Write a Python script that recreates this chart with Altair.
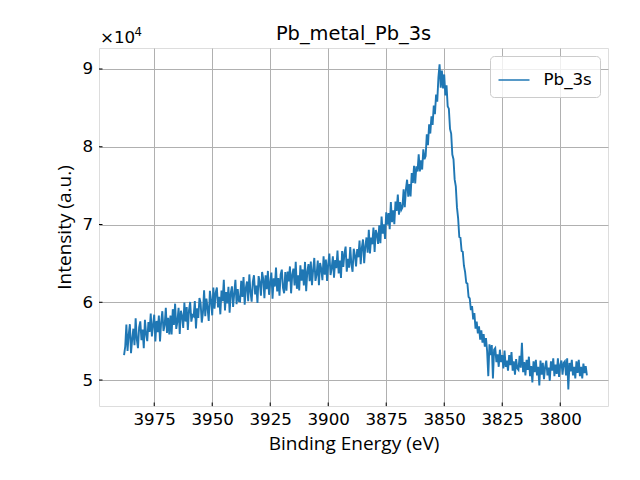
import altair as alt
import pandas as pd

# ---- data ----
energy = [3988.0 - 0.5 * i for i in range(400)]  # binding energy grid, eV (0.5 eV step)
intensity = [
    # 3988.0 - 3978.5
    53200, 54280, 57150, 53730, 55800, 57180, 53450, 55230, 56600, 54480,
    57950, 55230, 54100, 56780, 57550, 55130, 56500, 54080, 57750, 55930,
    # 3978.0 - 3968.5
    55000, 57450, 56200, 58550, 55600, 57050, 58400, 54950, 57600, 56150,
    58300, 54950, 57500, 58850, 56300, 57050, 59300, 56050, 58000, 55850,
    # 3968.0 - 3958.5
    58300, 55850, 59110, 57070, 59820, 56580, 57530, 59290, 55940, 58900,
    58250, 56710, 59960, 57520, 59380, 56430, 58990, 60040, 57500, 58350,
    # 3958.0 - 3948.5
    58200, 60170, 56640, 59210, 57980, 60550, 59920, 57390, 58660, 61530,
    58200, 60470, 59240, 57610, 61480, 60250, 58320, 61890, 59160, 61230,
    # 3948.0 - 3938.5
    61900, 59350, 60700, 58450, 61500, 60150, 62900, 58950, 61300, 59850,
    62000, 58650, 61200, 62050, 59400, 61150, 62900, 59750, 61700, 60150,
    # 3938.0 - 3928.5
    60100, 62750, 60690, 63240, 59690, 61840, 62680, 60130, 63580, 61320,
    60070, 62620, 63470, 61010, 62160, 59910, 63360, 62600, 60850, 63900,
    # 3928.0 - 3918.5
    63000, 60530, 63460, 61690, 64030, 60960, 62490, 63820, 60450, 63080,
    62020, 64450, 61380, 63110, 60840, 63570, 64200, 61840, 61170, 63900,
    # 3918.0 - 3908.5
    61500, 63940, 62670, 64610, 61150, 63580, 64320, 62160, 65190, 61730,
    63470, 61510, 64740, 62780, 64220, 62150, 65190, 61430, 63960, 64900,
    # 3908.0 - 3898.5
    62700, 65250, 62200, 64150, 65700, 62750, 63600, 65350, 62200, 65050,
    64300, 62850, 65900, 63550, 65500, 62750, 64900, 66250, 63500, 64350,
    # 3898.0 - 3888.5
    65900, 63160, 65420, 64380, 66640, 63700, 65360, 63120, 66580, 64540,
    66300, 67160, 63920, 65580, 64440, 67100, 64860, 63920, 66880, 66040,
    # 3888.0 - 3878.5
    64600, 66850, 65790, 67940, 64890, 67040, 68080, 65030, 67180, 68330,
    66370, 69320, 66270, 68310, 67460, 69610, 66460, 69300, 68750, 67500,
    # 3878.0 - 3868.5
    69900, 67610, 71020, 68830, 70040, 68150, 71560, 69970, 71480, 69390,
    72900, 70310, 71820, 70030, 72940, 71750, 73860, 71270, 72880, 71890,
    # 3868.0 - 3858.5
    72200, 74520, 72230, 74550, 75760, 73580, 75190, 73610, 76630, 75340,
    77560, 75270, 77490, 76810, 79020, 76840, 78250, 77070, 79680, 78400,
    # 3858.0 - 3848.5
    78800, 81600, 80200, 82900, 81700, 83900, 82800, 85300, 84200, 86700,
    85800, 88900, 90600, 87600, 89800, 87500, 89300, 86600, 87900, 85200,
    # 3848.0 - 3838.5
    84900, 82300, 81700, 79000, 78400, 75800, 74900, 72200, 70800, 68400,
    68300, 66600, 66500, 64700, 63900, 62500, 62400, 60700, 60500, 59000,
    # 3838.0 - 3828.5
    59500, 57800, 58600, 56600, 57500, 56000, 56900, 55200, 56400, 54800,
    55900, 54300, 55400, 53700, 50500, 54600, 53200, 54500, 50200, 53900,
    # 3828.0 - 3818.5
    54100, 52300, 53300, 51700, 53900, 52300, 53200, 51500, 53800, 51700,
    52500, 51200, 53200, 51900, 53600, 51200, 52400, 50700, 52700, 51500,
    # 3818.0 - 3808.5
    51300, 53100, 51600, 54800, 51000, 52300, 50600, 52600, 51300, 53000,
    50500, 51800, 49700, 52400, 51000, 52600, 50600, 51700, 49300, 52500,
    # 3808.0 - 3798.5
    50700, 52200, 50100, 51700, 52500, 50600, 51600, 49900, 52400, 51200,
    52800, 50500, 52000, 50800, 52800, 50400, 51900, 52500, 50700, 52200,
    # 3798.0 - 3788.5
    52400, 50600, 52800, 48800, 52200, 51100, 52600, 50600, 51700, 50200,
    52400, 50900, 52600, 50500, 51700, 50200, 52100, 50900, 51800, 50600,
]
series_name = "Pb_3s"
x_ticks = [3975, 3950, 3925, 3900, 3875, 3850, 3825, 3800]
y_ticks = [50000, 60000, 70000, 80000, 90000]
x_domain = [3779.4, 3998.8]
y_domain = [46660, 92700]
title_text = ["Pb_metal_Pb_3s"]
x_title = "Binding Energy (eV)"
y_title = "Intensity (a.u.)"
offset_base = ["×10"]
offset_exp = ["4"]

df = pd.DataFrame({"energy": energy, "intensity": intensity, "series": series_name})

W, H = 509, 358
xs = alt.Scale(domain=x_domain, reverse=True, nice=False, zero=False)
ys = alt.Scale(domain=y_domain, nice=False, zero=False)

x_axis = alt.Axis(
    values=x_ticks, format="d", grid=True, ticks=False, domain=False,
    labelPadding=5.5, labelFont="DejaVu Sans", labelFontSize=16.7, labelColor="black",
    labelFlush=False, labelOverlap=False,
    titleFont="Open Sans", titleFontSize=19, titleFontWeight="normal", titleColor="black",
    titleBaseline="alphabetic", titleAlign="center", titleX=W / 2, titleY=43,
    gridColor="#b0b0b0", gridWidth=1,
)
y_axis = alt.Axis(
    values=y_ticks, labelExpr="format(datum.value / 10000, 'd')",
    grid=True, ticks=False, domain=False,
    labelPadding=6.5, labelFont="DejaVu Sans", labelFontSize=16.7, labelColor="black",
    labelFlush=False, labelOverlap=False, labelBaseline="middle",
    titleFont="Open Sans", titleFontSize=19, titleFontWeight="normal", titleColor="black",
    titleAngle=-90, titleBaseline="alphabetic", titleAlign="center", titleX=-28.5, titleY=H / 2,
    gridColor="#b0b0b0", gridWidth=1,
)

legend = alt.Legend(
    title=None, orient="top-right", offset=8, padding=7.5,
    symbolType="stroke", symbolSize=961, symbolStrokeWidth=1.5,
    labelFont="DejaVu Sans", labelFontSize=16.7, labelColor="black", labelOffset=13,
    fillColor="rgba(255,255,255,0.8)", strokeColor="#cccccc", cornerRadius=4,
)

line = alt.Chart(df).mark_line(strokeWidth=1.9).encode(
    x=alt.X("energy:Q", scale=xs, axis=x_axis, title=x_title),
    y=alt.Y("intensity:Q", scale=ys, axis=y_axis, title=y_title),
    color=alt.Color("series:N", scale=alt.Scale(range=["#1f77b4"]), legend=legend),
)

xt = alt.Chart(pd.DataFrame({"energy": x_ticks})).mark_rule(color="black", strokeWidth=1).encode(
    x=alt.X("energy:Q", scale=xs, axis=x_axis, title=x_title),
    y=alt.value(H), y2=alt.value(H - 3.5),
)
yt = alt.Chart(pd.DataFrame({"intensity": y_ticks})).mark_rule(color="black", strokeWidth=1).encode(
    y=alt.Y("intensity:Q", scale=ys, axis=y_axis, title=y_title),
    x=alt.value(0), x2=alt.value(3.5),
)

off1 = alt.Chart(pd.DataFrame({"t": offset_base})).mark_text(
    align="left", baseline="alphabetic", font="DejaVu Sans", fontSize=16.7, color="black"
).encode(x=alt.value(1), y=alt.value(-5.3), text="t:N")
off2 = alt.Chart(pd.DataFrame({"t": offset_exp})).mark_text(
    align="left", baseline="alphabetic", font="DejaVu Sans", fontSize=11.7, color="black"
).encode(x=alt.value(35.5), y=alt.value(-11.8), text="t:N")
ttl = alt.Chart(pd.DataFrame({"t": title_text})).mark_text(
    align="center", baseline="alphabetic", font="DejaVu Sans", fontSize=19.4, color="black"
).encode(x=alt.value(W / 2), y=alt.value(-8.5), text="t:N")

chart = alt.layer(line, xt, yt, off1, off2, ttl).properties(
    width=W, height=H,
    autosize=alt.AutoSizeParams(type="none"),
    padding={"left": 91, "top": 40, "right": 24, "bottom": 60},
).configure_view(stroke="black", strokeWidth=1).configure(background="white")

chart.save("out.html", embed_options={"renderer": "svg", "actions": False})
